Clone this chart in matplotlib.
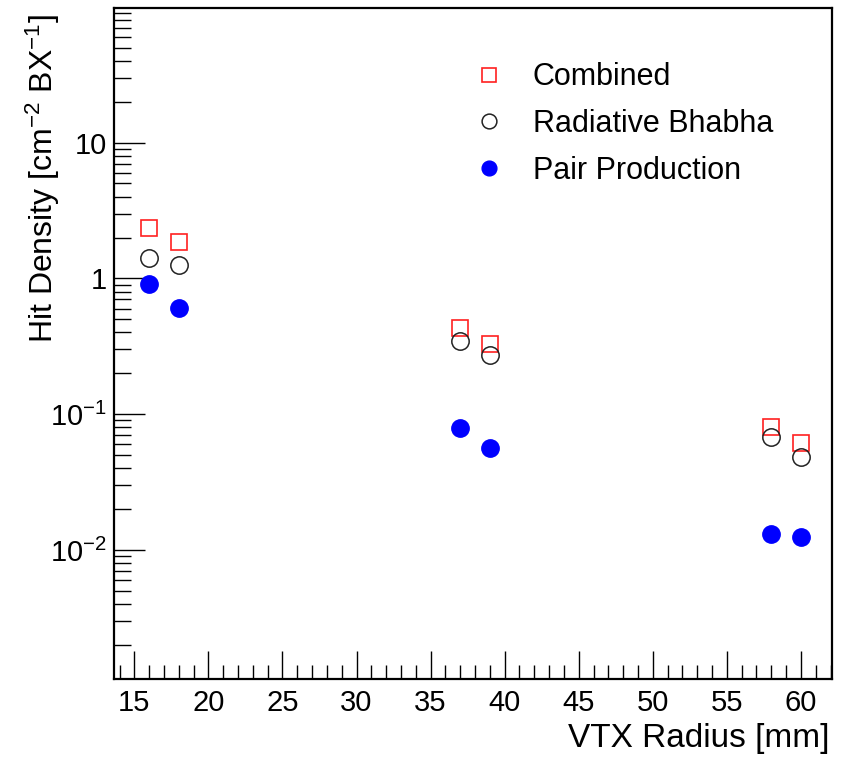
import numpy as np
import matplotlib
matplotlib.use("Agg")
import matplotlib.pyplot as plt
from matplotlib.ticker import FixedLocator, FixedFormatter, LogLocator, MultipleLocator

plt.rcParams['font.family'] = ['Liberation Sans', 'DejaVu Sans']
plt.rcParams['mathtext.fontset'] = 'custom'
plt.rcParams['mathtext.rm'] = 'Liberation Sans'
plt.rcParams['mathtext.it'] = 'Liberation Sans'

# data
radius = [16, 18, 37, 39, 58, 60]
combined = [2.35, 1.86, 0.428, 0.331, 0.080, 0.0612]
bhabha = [1.41, 1.26, 0.344, 0.272, 0.0674, 0.0482]
pairs = [0.908, 0.604, 0.0786, 0.0566, 0.0131, 0.0125]

y_ticks = [0.01, 0.1, 1, 10]
y_ticklabels = ['$10^{-2}$', '$10^{-1}$', '1', '10']

fig = plt.figure(figsize=(8.46, 7.57), dpi=100)
ax = fig.add_axes([0.1348, 0.103, 0.8487, 0.8864])

ax.plot(radius, combined, ls='none', marker='s', ms=12, mfc='none', mec='#ff2020', mew=1.2, label='Combined')
ax.plot(radius, bhabha, ls='none', marker='o', ms=12.5, mfc='none', mec='#222222', mew=1.1, label='Radiative Bhabha')
ax.plot(radius, pairs, ls='none', marker='o', ms=12.5, mfc='#0000ff', mec='#0000ff', label='Pair Production')

ax.set_yscale('log')
ax.set_xlim(13.63, 62.1)
ax.set_ylim(1.12e-3, 98)

ax.xaxis.set_major_locator(MultipleLocator(5))
ax.xaxis.set_minor_locator(MultipleLocator(1))
ax.yaxis.set_major_locator(FixedLocator(y_ticks))
ax.yaxis.set_major_formatter(FixedFormatter(y_ticklabels))
ax.yaxis.set_minor_locator(LogLocator(base=10, subs=np.arange(2, 10)))
ax.yaxis.set_minor_formatter(plt.NullFormatter())

ax.tick_params(which='both', direction='in', width=1, labelsize=21)
ax.tick_params(axis='x', which='major', length=20, pad=7)
ax.tick_params(axis='x', which='minor', length=10)
ax.tick_params(axis='y', which='major', length=22, pad=5)
ax.tick_params(axis='y', which='minor', length=12)
for s in ax.spines.values():
    s.set_linewidth(1.6)

ax.set_xlabel('VTX Radius [mm]', fontsize=24, loc='right')
ax.set_ylabel('Hit Density [cm$^{-2}$ BX$^{-1}$]', fontsize=23, loc='top')
ax.xaxis.set_label_coords(0.997, -0.066)
ax.yaxis.set_label_coords(-0.073, 0.99)

ax.legend(loc='upper left', bbox_to_anchor=(0.462, 0.96), frameon=False, fontsize=22,
          handletextpad=0.95, labelspacing=0.55, markerscale=0.85, handlelength=1.0)

fig.savefig('out.png', dpi=100)
